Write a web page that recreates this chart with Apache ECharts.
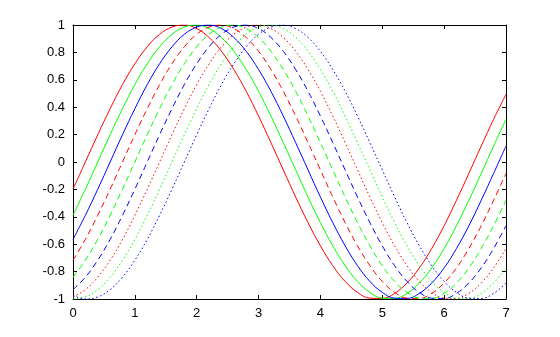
<!DOCTYPE html>
<html><head><meta charset="utf-8">
<script src="https://cdn.jsdelivr.net/npm/echarts@6/dist/echarts.min.js"></script>
<style>html,body{margin:0;padding:0;background:#fff}#c{width:560px;height:337px}</style>
</head><body><div id="c"></div>
<script>
var xValues = [0,0.2,0.4,0.6,0.8,1,1.2,1.4,1.6,1.8,2,2.2,2.4,2.6,2.8,3,3.2,3.4,3.6,3.8,4,4.2,4.4,4.6,4.8,5,5.2,5.4,5.6,5.8,6,6.2,6.4,6.6,6.8,7];
var redSolid = [-0.199,0,0.199,0.389,0.565,0.717,0.841,0.932,0.985,1.000,0.974,0.909,0.808,0.675,0.516,0.335,0.141,-0.058,-0.256,-0.443,-0.612,-0.757,-0.872,-0.952,-0.994,-0.996,-0.959,-0.883,-0.773,-0.631,-0.465,-0.279,-0.083,0.117,0.312,0.494];
var greenSolid = [-0.389,-0.199,0,0.199,0.389,0.565,0.717,0.841,0.932,0.985,1.000,0.974,0.909,0.808,0.675,0.516,0.335,0.141,-0.058,-0.256,-0.443,-0.612,-0.757,-0.872,-0.952,-0.994,-0.996,-0.959,-0.883,-0.773,-0.631,-0.465,-0.279,-0.083,0.117,0.312];
var blueSolid = [-0.565,-0.389,-0.199,0,0.199,0.389,0.565,0.717,0.841,0.932,0.985,1.000,0.974,0.909,0.808,0.675,0.516,0.335,0.141,-0.058,-0.256,-0.443,-0.612,-0.757,-0.872,-0.952,-0.994,-0.996,-0.959,-0.883,-0.773,-0.631,-0.465,-0.279,-0.083,0.117];
var redDashed = [-0.717,-0.565,-0.389,-0.199,0,0.199,0.389,0.565,0.717,0.841,0.932,0.985,1.000,0.974,0.909,0.808,0.675,0.516,0.335,0.141,-0.058,-0.256,-0.443,-0.612,-0.757,-0.872,-0.952,-0.994,-0.996,-0.959,-0.883,-0.773,-0.631,-0.465,-0.279,-0.083];
var greenDashed = [-0.841,-0.717,-0.565,-0.389,-0.199,0,0.199,0.389,0.565,0.717,0.841,0.932,0.985,1.000,0.974,0.909,0.808,0.675,0.516,0.335,0.141,-0.058,-0.256,-0.443,-0.612,-0.757,-0.872,-0.952,-0.994,-0.996,-0.959,-0.883,-0.773,-0.631,-0.465,-0.279];
var blueDashed = [-0.932,-0.841,-0.717,-0.565,-0.389,-0.199,0,0.199,0.389,0.565,0.717,0.841,0.932,0.985,1.000,0.974,0.909,0.808,0.675,0.516,0.335,0.141,-0.058,-0.256,-0.443,-0.612,-0.757,-0.872,-0.952,-0.994,-0.996,-0.959,-0.883,-0.773,-0.631,-0.465];
var redDotted = [-0.985,-0.932,-0.841,-0.717,-0.565,-0.389,-0.199,0,0.199,0.389,0.565,0.717,0.841,0.932,0.985,1.000,0.974,0.909,0.808,0.675,0.516,0.335,0.141,-0.058,-0.256,-0.443,-0.612,-0.757,-0.872,-0.952,-0.994,-0.996,-0.959,-0.883,-0.773,-0.631];
var greenDotted = [-1.000,-0.985,-0.932,-0.841,-0.717,-0.565,-0.389,-0.199,0,0.199,0.389,0.565,0.717,0.841,0.932,0.985,1.000,0.974,0.909,0.808,0.675,0.516,0.335,0.141,-0.058,-0.256,-0.443,-0.612,-0.757,-0.872,-0.952,-0.994,-0.996,-0.959,-0.883,-0.773];
var blueDotted = [-0.974,-1.000,-0.985,-0.932,-0.841,-0.717,-0.565,-0.389,-0.199,0,0.199,0.389,0.565,0.717,0.841,0.932,0.985,1.000,0.974,0.909,0.808,0.675,0.516,0.335,0.141,-0.058,-0.256,-0.443,-0.612,-0.757,-0.872,-0.952,-0.994,-0.996,-0.959,-0.883];
var xTickLabels = ['0','1','2','3','4','5','6','7'];
var yTickLabels = ['-1','-0.8','-0.6','-0.4','-0.2','0','0.2','0.4','0.6','0.8','1'];

var seriesDefs = [
  [redSolid,'#ff0000','solid'],[greenSolid,'#00ff00','solid'],[blueSolid,'#0000ff','solid'],
  [redDashed,'#ff0000',[6,4]],[greenDashed,'#00ff00',[6,4]],[blueDashed,'#0000ff',[6,4]],
  [redDotted,'#ff0000',[1.5,2.5]],[greenDotted,'#00ff00',[1.5,2.5]],[blueDotted,'#0000ff',[1.5,2.5]]
];
function pairs(ys){ return ys.map(function(y,i){ return [xValues[i], y]; }); }
var font = {fontFamily:'Liberation Sans, Arial, Helvetica, sans-serif', fontSize:13, color:'#000'};
function axisCommon(){ return {
  axisLine:{show:true,onZero:false,lineStyle:{color:'#000',width:1}},
  axisTick:{show:true,inside:true,length:4,lineStyle:{color:'#000'}},
  splitLine:{show:false}
};}
var chart = echarts.init(document.getElementById('c'), null, {renderer:'canvas'});
chart.setOption({
  animation:false,
  backgroundColor:'#fff',
  grid:{left:73,right:54,top:25,bottom:38,containLabel:false},
  xAxis:[
    Object.assign({type:'value',min:0,max:7,interval:1,position:'bottom',
      axisLabel:Object.assign({margin:8,formatter:function(v){return xTickLabels[Math.round(v)];}},font)},axisCommon()),
    Object.assign({type:'value',min:0,max:7,interval:1,position:'top',axisLabel:{show:false}},axisCommon())
  ],
  yAxis:[
    Object.assign({type:'value',min:-1,max:1,interval:0.2,position:'left',
      axisLabel:Object.assign({margin:8,formatter:function(v){return yTickLabels[Math.round((v+1)*5)];}},font)},axisCommon()),
    Object.assign({type:'value',min:-1,max:1,interval:0.2,position:'right',axisLabel:{show:false}},axisCommon())
  ],
  series:seriesDefs.map(function(d){
    return {type:'line',data:pairs(d[0]),smooth:0.4,showSymbol:false,symbol:'none',
      clip:true,lineStyle:{color:d[1],width:1,type:d[2]}};
  })
});
</script></body></html>
